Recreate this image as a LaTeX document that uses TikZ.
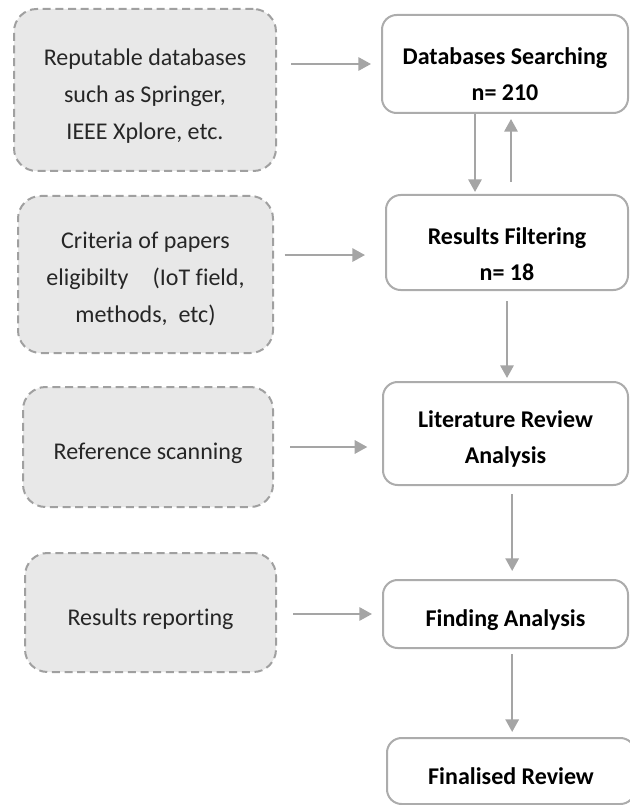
\documentclass[tikz,border=0pt]{standalone}
\usepackage{fontspec}
\setmainfont{Carlito}[Ligatures=NoCommon]
\usetikzlibrary{arrows.meta}
\definecolor{boxfill}{RGB}{232,232,232}
\definecolor{dashgray}{RGB}{160,160,160}
\definecolor{linegray}{RGB}{172,172,172}
\definecolor{arrowgray}{RGB}{165,165,165}
\newcommand{\dropline}[1]{\rule{0pt}{#1}}

\begin{document}
\begin{tikzpicture}[x=0.75pt,y=-0.75pt,
		lbox/.style={draw=dashgray,fill=boxfill,line width=1.5pt,dash pattern=on 6pt off 3.5pt,rounded corners=17pt,align=center,text=black!85,font=\fontsize{18}{27.75}\selectfont},
		rbox/.style={draw=linegray,fill=white,line width=1.5pt,rounded corners=11pt,align=center,font=\fontsize{18}{27}\selectfont\bfseries},
		arr/.style={draw=arrowgray,line width=1.6pt,-{Triangle[length=9.5pt,width=10pt]}}]
			\clip (0,0) rectangle (630,805);
			\node [lbox,minimum width=196.5pt,minimum height=121.5pt] (sources) at (145,90) {\dropline{21pt}Reputable databases\\such as Springer,\\IEEE Xplore, etc.};
			\node [lbox,minimum width=191.25pt,minimum height=117.75pt] (criteria) at (145.5,274.5) {\dropline{19pt}Criteria of papers\\eligibilty\quad(IoT field,\\methods,~ etc)};
			\node [lbox,minimum width=187.5pt,minimum height=90pt] (scanning) at (148,447) {\dropline{22.5pt}Reference scanning};
			\node [lbox,minimum width=188.25pt,minimum height=89.25pt] (reporting) at (150.5,612.5) {\dropline{22.5pt}Results reporting};
			\node [rbox,minimum width=184.5pt,minimum height=73.5pt] (searching) at (505,64) {\dropline{28pt}Databases Searching\\n= 210};
			\node [rbox,minimum width=181.5pt,minimum height=71.25pt] (filtering) at (507,242.5) {\dropline{30.5pt}Results Filtering\\n= 18};
			\node [rbox,minimum width=183.75pt,minimum height=77.25pt] (litreview) at (505.5,433.5) {\dropline{21.5pt}Literature Review\\Analysis};
			\node [rbox,minimum width=183.75pt,minimum height=51pt] (finding) at (505.5,614) {\dropline{22.5pt}Finding Analysis};
			\node [rbox,minimum width=186pt,minimum height=49.5pt] (finalised) at (511,771) {\dropline{20pt}Finalised Review};
			\coordinate (filterin) at ([yshift=-9.4pt]filtering.west);
			\draw [arr,shorten <=10.5pt,shorten >=7.5pt] (sources.east |- searching.west) -- (searching.west);
			\draw [arr,shorten <=8pt,shorten >=15pt] (criteria.east |- filterin) -- (filterin);
			\draw [arr,shorten <=12pt,shorten >=11pt] (scanning.east) -- (scanning.east -| litreview.west);
			\draw [arr,shorten <=12pt,shorten >=7.5pt] (reporting.east |- finding.west) -- (finding.west);
			\draw [arr,shorten >=1.5pt] ([xshift=-22.5pt]searching.south) -- ([xshift=-22.5pt]searching.south |- filtering.north);
			\draw [arr,shorten <=9pt,shorten >=3.75pt] ([xshift=4.5pt]searching.south |- filtering.north) -- ([xshift=4.5pt]searching.south);
			\draw [arr,shorten <=7.5pt,shorten >=2.25pt] (filtering.south) -- (filtering.south |- litreview.north);
			\draw [arr,shorten <=6pt,shorten >=6pt] ([xshift=5pt]litreview.south) -- ([xshift=5pt]litreview.south |- finding.north);
			\draw [arr,shorten <=3.75pt,shorten >=3.75pt] ([xshift=5pt]finding.south) -- ([xshift=5pt]finding.south |- finalised.north);
		\end{tikzpicture}
\end{document}
